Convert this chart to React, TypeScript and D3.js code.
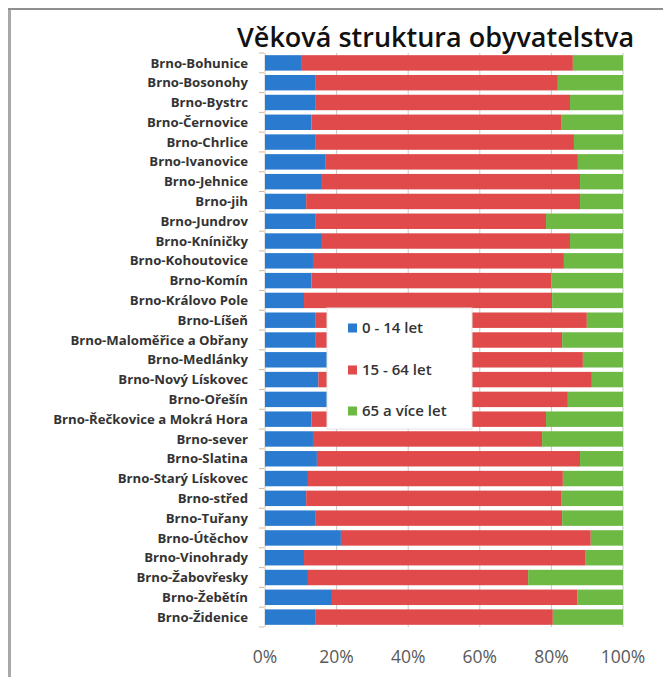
import React from "react";
import * as d3 from "d3";

const districts = [
  "Brno-Bohunice", "Brno-Bosonohy", "Brno-Bystrc", "Brno-Černovice", "Brno-Chrlice",
  "Brno-Ivanovice", "Brno-Jehnice", "Brno-jih", "Brno-Jundrov", "Brno-Kníničky",
  "Brno-Kohoutovice", "Brno-Komín", "Brno-Královo Pole", "Brno-Líšeň", "Brno-Maloměřice a Obřany",
  "Brno-Medlánky", "Brno-Nový Lískovec", "Brno-Ořešín", "Brno-Řečkovice a Mokrá Hora", "Brno-sever",
  "Brno-Slatina", "Brno-Starý Lískovec", "Brno-střed", "Brno-Tuřany", "Brno-Útěchov",
  "Brno-Vinohrady", "Brno-Žabovřesky", "Brno-Žebětín", "Brno-Židenice",
];
const age0to14 = [10.3, 14, 14, 13, 14, 16.8, 15.9, 11.5, 14, 15.9, 13.4, 13, 10.9, 14, 14, 17.5, 14.9, 18, 13, 13.4, 14.5, 12, 11.5, 14, 21.2, 10.9, 12, 18.7, 14];
const age15to64 = [75.7, 67.8, 71.2, 69.7, 72.3, 70.6, 72.1, 76.5, 64.5, 69.3, 70.1, 67.0, 69.3, 75.9, 69.0, 71.3, 76.4, 66.6, 65.5, 64.0, 73.5, 71.2, 71.2, 69.0, 69.8, 78.5, 61.5, 68.5, 66.4];
const age65plus = [14.0, 18.2, 14.8, 17.3, 13.7, 12.6, 12.0, 12.0, 21.5, 14.8, 16.5, 20.0, 19.8, 10.1, 17.0, 11.2, 8.7, 15.4, 21.5, 22.6, 12.0, 16.8, 17.3, 17.0, 9.0, 10.6, 26.5, 12.8, 19.6];
const seriesNames = ["0 - 14 let", "15 - 64 let", "65 a více let"];
const seriesColors = ["#2a7bd0", "#e04a4a", "#6db944"];
const xTicks = [0, 0.2, 0.4, 0.6, 0.8, 1];
const title = "Věková struktura obyvatelstva";

export default function App() {
  const W = 663, H = 677;
  const rows = districts.map((d, i) => ({ name: d, a: age0to14[i], b: age15to64[i], c: age65plus[i] }));
  const stack = d3.stack<any>().keys(["a", "b", "c"]).offset(d3.stackOffsetExpand);
  const layers = stack(rows);
  const x = d3.scaleLinear().domain([0, 1]).range([265, 623]);
  const y = d3.scaleBand<string>().domain(districts).range([53, 627]).paddingInner(0.22).paddingOuter(0.11);
  const fmt = d3.format(".0%");
  const labelFont = "'Open Sans', sans-serif";
  const legendY = [328, 370, 411];
  return (
    <svg width={W} height={H} style={{ position: "absolute", left: 0, top: 0, background: "#fff" }}>
      <rect x={0} y={0} width={W} height={H} fill="#fff" />
      <rect x={8} y={8} width={3} height={H - 8} fill="#a8a8a8" />
      <rect x={8} y={8} width={W - 8} height={2} fill="#8f8f8f" />
      <text x={237} y={47} fontFamily={labelFont} fontWeight={600} fontSize={27} fill="#111">{title}</text>
      {xTicks.map((t) => (
        <line key={t} x1={x(t)} x2={x(t)} y1={53} y2={627} stroke="#c8c8c8" strokeWidth={1} />
      ))}
      {districts.map((d, i) => (
        <line key={"tk" + i} x1={259} x2={264} y1={(y(d) as number) - 2.2} y2={(y(d) as number) - 2.2} stroke="#d8b896" strokeWidth={1} />
      ))}
      <line x1={259} x2={264} y1={627} y2={627} stroke="#d8b896" strokeWidth={1} />
      {layers.map((layer, li) => (
        <g key={li} fill={seriesColors[li]}>
          {layer.map((s, i) => (
            <rect key={i} x={x(s[0])} y={y(districts[i])} width={x(s[1]) - x(s[0])} height={y.bandwidth()} />
          ))}
        </g>
      ))}
      {districts.map((d) => (
        <text key={d} x={248} y={(y(d) as number) + y.bandwidth() / 2} dy="0.35em" textAnchor="end"
          fontFamily={labelFont} fontWeight={700} fontSize={13.2} fill="#333">{d}</text>
      ))}
      {xTicks.map((t) => (
        <text key={"l" + t} x={x(t)} y={663} textAnchor="middle" fontFamily={labelFont} fontSize={17.5} fill="#595959">{fmt(t)}</text>
      ))}
      <rect x={327} y={308} width={145} height={121} fill="#fff" stroke="#e4e4e4" strokeWidth={1} />
      {seriesNames.map((n, i) => (
        <g key={n}>
          <rect x={348} y={legendY[i] - 4.5} width={9} height={9} fill={seriesColors[i]} />
          <text x={362} y={legendY[i]} dy="0.35em" fontFamily={labelFont} fontWeight={600} fontSize={15} fill="#333">{n}</text>
        </g>
      ))}
    </svg>
  );
}
